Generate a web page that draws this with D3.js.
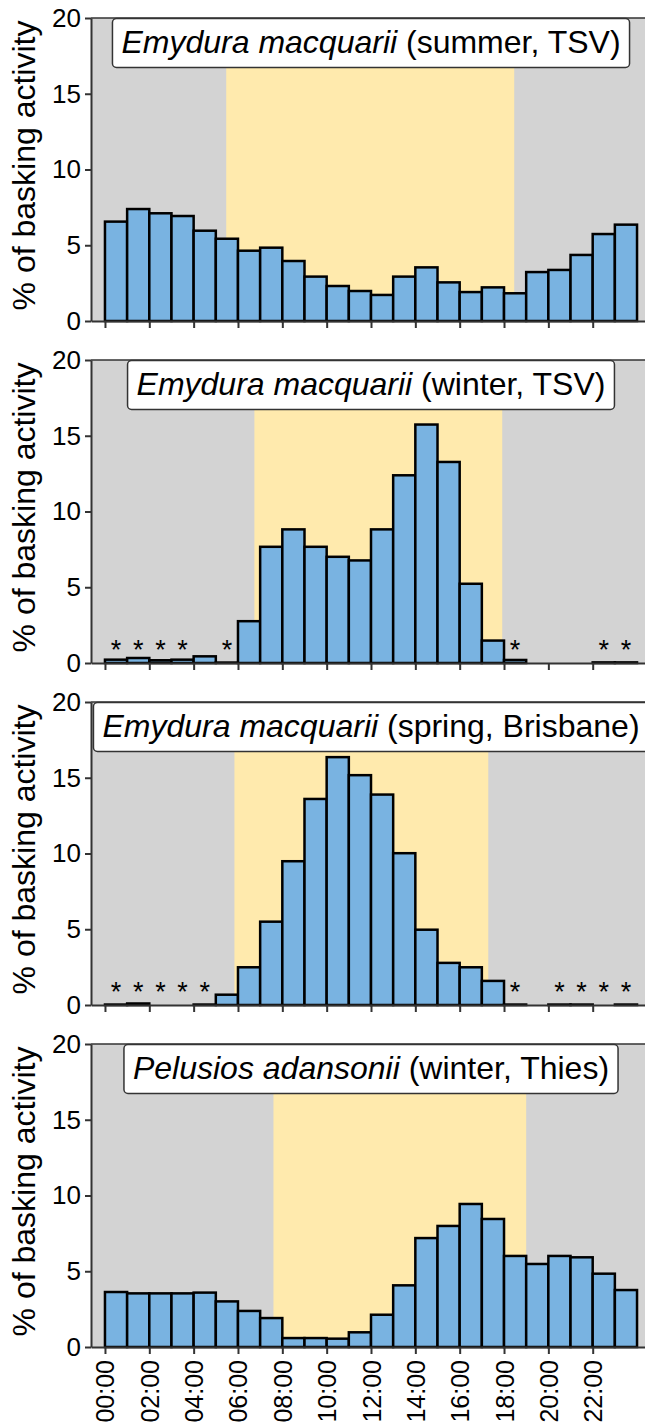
<!DOCTYPE html>
<html>
<head>
<meta charset="utf-8">
<script src="https://cdn.jsdelivr.net/npm/d3@7"></script>
<style>
  body { margin: 0; background: #fff; }
  text { font-family: "Liberation Sans", Arial, sans-serif; }
</style>
</head>
<body>
<div id="chart"></div>
<script>
// hour of day (bar start), 0..23
const HOURS = d3.range(24);
const TICK_HOURS = [0, 2, 4, 6, 8, 10, 12, 14, 16, 18, 20, 22];
const TICK_LABELS = ["00:00", "02:00", "04:00", "06:00", "08:00", "10:00",
  "12:00", "14:00", "16:00", "18:00", "20:00", "22:00"];
const Y_TICKS = [0, 5, 10, 15, 20];

const SPECIES = ["Emydura macquarii", "Emydura macquarii", "Emydura macquarii", "Pelusios adansonii"];
const CONDITIONS = ["(summer, TSV)", "(winter, TSV)", "(spring, Brisbane)", "(winter, Thies)"];

// daylight window in hours (sunrise, sunset)
const DAYLIGHT = [[5.47, 18.46], [6.74, 17.92], [5.84, 17.29], [7.6, 19.0]];

const SUMMER_TSV = [6.56, 7.39, 7.11, 6.93, 5.96, 5.43, 4.64, 4.84, 3.96, 2.93, 2.31, 1.98,
  1.72, 2.93, 3.54, 2.55, 1.91, 2.22, 1.83, 3.23, 3.37, 4.36, 5.74, 6.36];
const WINTER_TSV = [0.22, 0.33, 0.18, 0.22, 0.44, 0.03, 2.76, 7.67, 8.82, 7.67, 7.01, 6.77,
  8.82, 12.39, 15.74, 13.27, 5.23, 1.48, 0.2, 0, 0, 0, 0.04, 0.04];
const SPRING_BNE = [0.03, 0.1, 0, 0, 0.03, 0.68, 2.49, 5.5, 9.49, 13.6, 16.36, 15.17,
  13.89, 10.02, 4.97, 2.78, 2.49, 1.59, 0.03, 0, 0.03, 0.03, 0, 0.03];
const WINTER_THIES = [3.63, 3.54, 3.54, 3.54, 3.59, 3.01, 2.38, 1.91, 0.59, 0.59, 0.55, 0.97,
  2.13, 4.07, 7.19, 7.99, 9.44, 8.45, 6.01, 5.48, 6.01, 5.92, 4.84, 3.76];
const SERIES = [SUMMER_TSV, WINTER_TSV, SPRING_BNE, WINTER_THIES];

// hours flagged with an asterisk
const STARS = [[], [0, 1, 2, 3, 5, 18, 22, 23], [0, 1, 2, 3, 4, 18, 20, 21, 22, 23], []];

const WIDTH = 645;
const HEIGHT = 1425;
const PANEL_TOP = [18, 360, 702, 1044];
const PANEL_H = 303;
const PLOT_LEFT = 91;
const PLOT_RIGHT = 651;
const X_DOMAIN = [-0.63, 24.63];

const GREY = "#d3d3d3";
const DAY = "#ffeaad";
const BAR = "#79b3e1";
const AXIS = "#333333";

const svg = d3.select("#chart").append("svg")
  .attr("width", WIDTH)
  .attr("height", HEIGHT);

const x = d3.scaleLinear().domain(X_DOMAIN).range([PLOT_LEFT, PLOT_RIGHT]);

SERIES.forEach((values, i) => {
  const top = PANEL_TOP[i];
  const y = d3.scaleLinear().domain([0, 20]).range([top + PANEL_H, top]);
  const g = svg.append("g");

  g.append("rect")
    .attr("x", x(X_DOMAIN[0])).attr("y", y(20))
    .attr("width", x(X_DOMAIN[1]) - x(X_DOMAIN[0]))
    .attr("height", y(0) - y(20))
    .attr("fill", GREY);

  const [rise, set] = DAYLIGHT[i];
  g.append("rect")
    .attr("x", x(rise)).attr("y", y(16.7))
    .attr("width", x(set) - x(rise))
    .attr("height", y(0) - y(16.7))
    .attr("fill", DAY);

  g.append("g").selectAll("rect")
    .data(HOURS.filter(h => values[h] > 0))
    .join("rect")
    .attr("x", h => x(h))
    .attr("y", h => y(values[h]))
    .attr("width", h => x(h + 1) - x(h))
    .attr("height", h => y(0) - y(values[h]))
    .attr("fill", BAR)
    .attr("stroke", "#000")
    .attr("stroke-width", 2.5);

  g.append("g").selectAll("text")
    .data(STARS[i])
    .join("text")
    .attr("x", h => x(h + 0.5))
    .attr("y", y(0) - 4)
    .attr("text-anchor", "middle")
    .attr("font-size", 27)
    .text("*");

  // top border
  g.append("line")
    .attr("x1", PLOT_LEFT).attr("x2", PLOT_RIGHT)
    .attr("y1", y(20)).attr("y2", y(20))
    .attr("stroke", AXIS).attr("stroke-width", 1.5);

  // label box
  const box = g.append("rect");
  const label = g.append("text")
    .attr("x", x(12))
    .attr("y", top + 35)
    .attr("text-anchor", "middle")
    .attr("font-size", 32)
    .attr("fill", "#000");
  label.append("tspan").attr("font-style", "italic").text(SPECIES[i]);
  label.append("tspan").text(" " + CONDITIONS[i]);
  const bb = label.node().getBBox();
  box.attr("x", bb.x - 9)
    .attr("y", y(20) + 0.5)
    .attr("width", bb.width + 18)
    .attr("height", y(16.7) - y(20) - 1)
    .attr("rx", 4)
    .attr("fill", "#fff")
    .attr("stroke", AXIS)
    .attr("stroke-width", 1.5);

  // axes
  const yAxis = g.append("g")
    .attr("transform", `translate(${PLOT_LEFT},0)`)
    .call(d3.axisLeft(y).tickValues(Y_TICKS).tickSize(6).tickSizeOuter(0).tickPadding(4));
  yAxis.selectAll("text").attr("font-size", 26).attr("fill", "#000");

  const xAxis = g.append("g")
    .attr("transform", `translate(0,${y(0)})`)
    .call(d3.axisBottom(x).tickValues(TICK_HOURS).tickSize(7).tickSizeOuter(0)
      .tickFormat((d, k) => i === 3 ? TICK_LABELS[k] : ""));
  xAxis.selectAll("text")
    .attr("font-size", 25)
    .attr("fill", "#000")
    .attr("transform", "rotate(-90)")
    .attr("text-anchor", "end")
    .attr("x", -13)
    .attr("y", 0)
    .attr("dy", "0.36em");

  [yAxis, xAxis].forEach(a => {
    a.select(".domain").attr("stroke", AXIS).attr("stroke-width", 2);
    a.selectAll(".tick line").attr("stroke", AXIS).attr("stroke-width", 2);
  });

  // y title
  g.append("text")
    .attr("transform", `translate(35,${top + PANEL_H / 2 - 4}) rotate(-90)`)
    .attr("text-anchor", "middle")
    .attr("font-size", 32)
    .text("% of basking activity");
});
</script>
</body>
</html>
